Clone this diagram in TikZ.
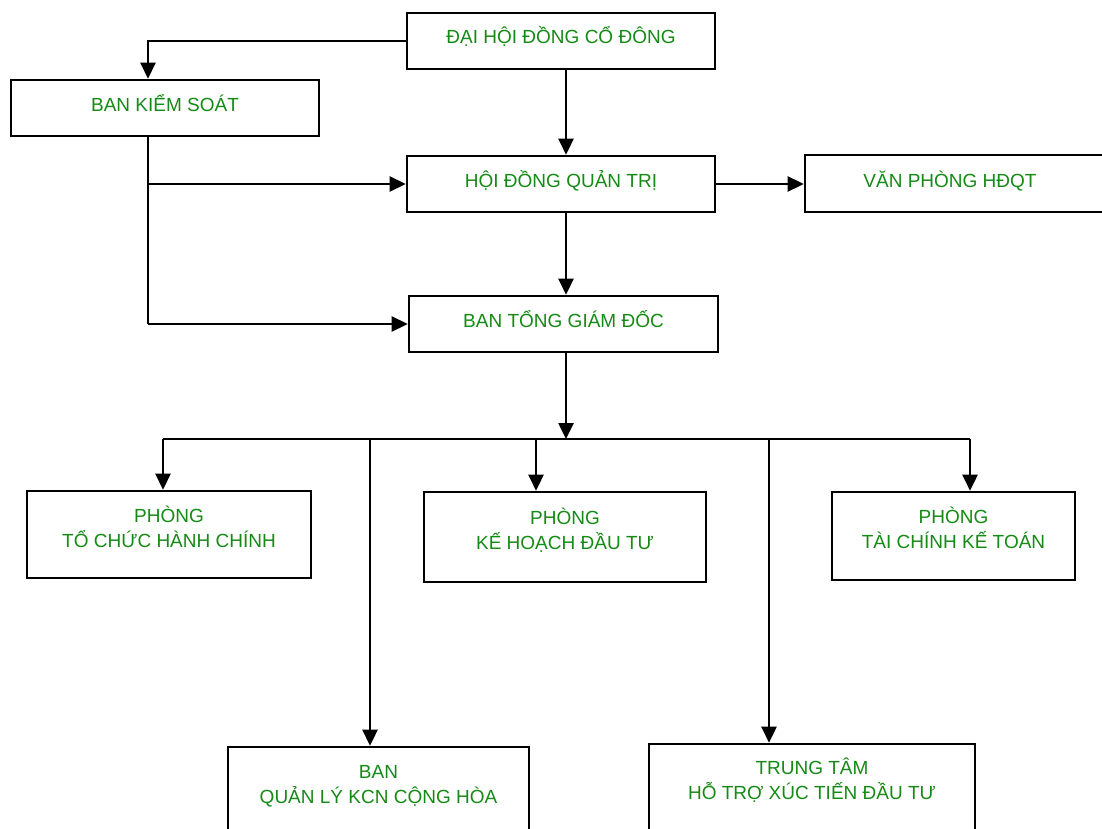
\documentclass[tikz,border=0pt]{standalone}
\usepackage{fontspec}
\setmainfont{Liberation Sans}
\usetikzlibrary{arrows.meta}
\definecolor{txtgreen}{RGB}{22,138,22}
\tikzset{
  box/.style={draw=black, line width=2.6pt, fill=white, inner sep=0pt},
  txt/.style={text=txtgreen, font=\fontsize{19}{25}\selectfont, inner sep=0pt, align=center, anchor=base},
  conn/.style={draw=black, line width=2.6pt},
  arr/.style={conn, -{Triangle[length=16pt,width=15pt]}}
}
\begin{document}
\begin{tikzpicture}[x=1pt,y=-1pt]
\useasboundingbox (0,0) rectangle (1102,829);
\clip (0,0) rectangle (1102,829);
% boxes
\node[box, minimum width=308, minimum height=56] (dhd) at (561,41) {};
\node[box, minimum width=308, minimum height=56] (bks) at (165,108) {};
\node[box, minimum width=308, minimum height=56] (hdqt) at (561,184) {};
\node[box, minimum width=300, minimum height=57] (vp) at (955,183.5) {};
\node[box, minimum width=309, minimum height=56] (btgd) at (563.5,324) {};
\node[box, minimum width=284, minimum height=87] (tchc) at (169,534.5) {};
\node[box, minimum width=282, minimum height=90] (pkh) at (565,537) {};
\node[box, minimum width=243, minimum height=88] (tckt) at (953.5,536) {};
\node[box, minimum width=301, minimum height=94] (bql) at (378.5,794) {};
\node[box, minimum width=326, minimum height=96] (tt) at (812,792) {};
% texts
\node[txt] (dhd-t) at (561,44) {ĐẠI HỘI ĐỒNG CỔ ĐÔNG};
\node[txt] (bks-t) at (165,112) {BAN KIỂM SOÁT};
\node[txt] (hdqt-t) at (561,187) {HỘI ĐỒNG QUẢN TRỊ};
\node[txt] (vp-t) at (950,187) {VĂN PHÒNG HĐQT};
\node[txt] (btgd-t) at (563.5,327) {BAN TỔNG GIÁM ĐỐC};
\node[txt] (tchc-t) at (169,547) {PHÒNG\\TỔ CHỨC HÀNH CHÍNH};
\node[txt] (pkh-t) at (565,549) {PHÒNG\\KẾ HOẠCH ĐẦU TƯ};
\node[txt] (tckt-t) at (953.5,548) {PHÒNG\\TÀI CHÍNH KẾ TOÁN};
\node[txt] (bql-t) at (378.5,803) {BAN\\QUẢN LÝ KCN CỘNG HÒA};
\node[txt] (tt-t) at (812,799) {TRUNG TÂM\\HỖ TRỢ XÚC TIẾN ĐẦU TƯ};
% helper coordinates
\coordinate (kx) at (148,0);
\coordinate (cx) at (566,0);
\coordinate (bus) at (566,439);
\coordinate (bl) at (163,439);
\coordinate (br) at (970,439);
\coordinate (d2) at (370,439);
\coordinate (d3) at (536,439);
\coordinate (d4) at (769,439);
% connectors
\draw[arr] (dhd.west) -| (kx |- bks.north);
\draw[conn] (kx |- bks.south) -- (kx |- btgd.west);
\draw[arr] (kx |- hdqt.west) -- (hdqt.west);
\draw[arr] (kx |- btgd.west) -- (btgd.west);
\draw[arr] (cx |- dhd.south) -- (cx |- hdqt.north);
\draw[arr] (hdqt.east) -- (hdqt.east -| vp.west);
\draw[arr] (cx |- hdqt.south) -- (cx |- btgd.north);
\draw[arr] (cx |- btgd.south) -- (bus);
\draw[conn] (bl) -- (br);
\draw[arr] (bl) -- (bl |- tchc.north);
\draw[arr] (d2) -- (d2 |- bql.north);
\draw[arr] (d3) -- (d3 |- pkh.north);
\draw[arr] (d4) -- (d4 |- tt.north);
\draw[arr] (br) -- (br |- tckt.north);
\end{tikzpicture}
\end{document}
